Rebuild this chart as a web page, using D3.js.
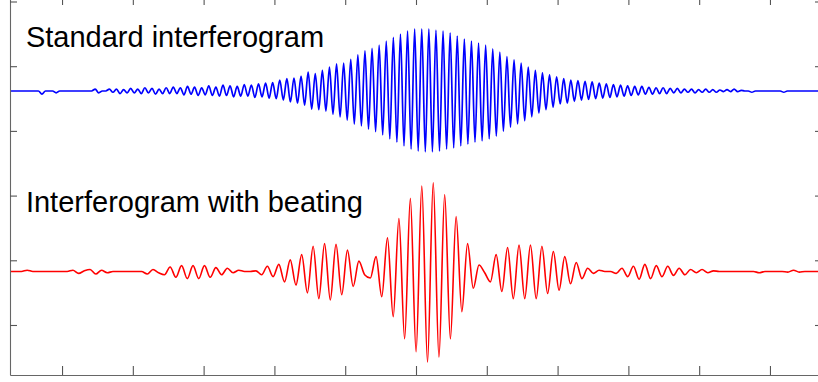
<!DOCTYPE html>
<html><head><meta charset="utf-8">
<script src="https://cdn.jsdelivr.net/npm/d3@7"></script>
<style>html,body{margin:0;padding:0;background:#fff;overflow:hidden;} svg{display:block;}</style>
</head><body>
<svg id="chart" width="818" height="382"></svg>
<script>
// ---- data ----
const xTicks = [-5,-4,-3,-2,-1,0,1,2,3,4,5];
const yTicks = [0,1,2,3,4,5];
const seriesNames = ["Standard interferogram", "Interferogram with beating"];
const blueOffset = 3.617;
const redOffset = 0.827;
const gridStart = -5.735;   // first sample position (axis units)
const blueStep = 0.05014;   // sample spacing, standard interferogram
const redStep = 0.08079;    // sample spacing, beating interferogram

// extremes of the standard interferogram (one value per half period)
const blueY = [
 0,0,0,0,0,0,0,0,0,-0.05,
 0,0,0,-0.03,0,0,0,0,0,0,
 0,0,0,0,0.03,-0.03,0,0,0.03,-0.02,
 0.03,-0.04,0.02,-0.03,0.04,-0.03,0.03,-0.04,0.05,-0.03,
 0.04,-0.05,0.03,-0.04,0.05,-0.04,0.06,-0.04,0.05,-0.06,
 0.07,-0.05,0.06,-0.07,0.05,-0.06,0.08,-0.07,0.06,-0.08,
 0.09,-0.07,0.08,-0.09,0.07,-0.08,0.1,-0.08,0.09,-0.1,
 0.11,-0.09,0.12,-0.11,0.13,-0.12,0.17,-0.14,0.19,-0.17,
 0.2,-0.19,0.23,-0.22,0.29,-0.28,0.27,-0.29,0.32,-0.31,
 0.37,-0.36,0.42,-0.4,0.43,-0.45,0.49,-0.51,0.56,-0.54,
 0.62,-0.59,0.66,-0.63,0.71,-0.68,0.77,-0.74,0.83,-0.79,
 0.88,-0.85,0.93,-0.9,0.96,-0.93,0.96,-0.94,0.96,-0.94,
 0.94,-0.93,0.93,-0.9,0.9,-0.88,0.85,-0.85,0.8,-0.82,
 0.77,-0.79,0.74,-0.77,0.71,-0.74,0.65,-0.7,0.6,-0.62,
 0.53,-0.56,0.48,-0.51,0.43,-0.46,0.37,-0.4,0.32,-0.34,
 0.28,-0.29,0.25,-0.25,0.22,-0.2,0.19,-0.19,0.17,-0.16,
 0.16,-0.14,0.15,-0.13,0.14,-0.12,0.12,-0.11,0.11,-0.1,
 0.1,-0.09,0.09,-0.08,0.08,-0.07,0.07,-0.06,0.07,-0.05,
 0.055,-0.05,0.05,-0.04,0.05,-0.04,0.04,-0.03,0.04,-0.03,
 0.03,-0.02,0.03,-0.03,0.02,-0.02,0.03,-0.02,0.02,-0.02,
 0.015,-0.01,0.02,-0.01,0.03,-0.01,0.01,0,0,-0.02,
 0,0,0,0,0,0,0,0,-0.02,0,
 0,0,0,0,0,0,0,0,0,0
];

// extremes of the interferogram with beating (one value per half period)
const redY = [
 0,0,0,0.02,0,0,0,0,0,0,
 0,0.02,-0.03,0.01,0.03,-0.04,0.02,-0.02,0,0,
 0,0,0,0,-0.04,0.03,-0.02,-0.05,0.07,-0.09,
 0.09,-0.11,0.09,-0.11,0.09,-0.09,0.06,-0.05,0.05,-0.02,
 0.02,0,0,0.01,-0.05,
 0.08,-0.08,0.11,-0.16,0.18,-0.21,0.26,-0.33,0.39,-0.42,
 0.43,-0.44,0.42,-0.36,0.33,-0.23,0.16,-0.05,-0.1,0.23,
 -0.39,0.52,-0.7,0.82,-1.04,1.13,-1.24,1.32,-1.4,1.37,
 -1.32,1.19,-1.04,0.85,-0.62,0.43,-0.26,0.1,-0.02,-0.16,
 0.26,-0.31,0.37,-0.42,0.41,-0.42,0.41,-0.42,0.39,-0.34,
 0.31,-0.29,0.23,-0.19,0.14,-0.11,0.05,-0.03,0.02,0,
 0,-0.03,0.05,-0.08,0.08,-0.12,0.11,-0.11,0.09,-0.08,
 0.08,-0.06,0.05,-0.05,0.03,-0.02,0.03,-0.02,0.01,
 0,0,0,0,0,0,0,-0.02,0,0,0,0,-0.01,0.02,-0.01,0,0,0,0
];

// ---- layout ----
const mLeft = 10, mRight = 822, mTop = -4, mBottom = 375;
const x = d3.scaleLinear().domain([-5.735, 5.735]).range([mLeft, mRight]);
const y = d3.scaleLinear().domain([-0.773, 5.085]).range([mBottom, mTop]);

const svg = d3.select("#chart");
svg.append("rect").attr("width", 818).attr("height", 382).attr("fill", "#fff");

svg.append("defs").append("clipPath").attr("id", "clip")
  .append("rect").attr("x", mLeft).attr("y", mTop)
  .attr("width", mRight - mLeft).attr("height", mBottom - mTop);

const plot = svg.append("g").attr("clip-path", "url(#clip)");

const blueData = blueY.map((v, i) => ({ x: gridStart + i * blueStep, y: v + blueOffset }));
const redData = redY.map((v, i) => ({ x: gridStart + i * redStep, y: v + redOffset }));

const line = d3.line().x(d => x(d.x)).y(d => y(d.y)).curve(d3.curveMonotoneX);

plot.append("path").datum(blueData).attr("d", line)
  .attr("fill", "none").attr("stroke", "#0000ff").attr("stroke-width", 1.7)
  .attr("stroke-linejoin", "round");
plot.append("path").datum(redData).attr("d", line)
  .attr("fill", "none").attr("stroke", "#ff0000").attr("stroke-width", 1.6)
  .attr("stroke-linejoin", "round");

// axes (box with inward ticks)
function styleAxis(g) {
  g.selectAll(".domain").attr("stroke", "#666").attr("stroke-width", 1.1);
  g.selectAll(".tick line").attr("stroke", "#555").attr("stroke-width", 1.1);
  g.selectAll("text").remove();
}
svg.append("g").attr("transform", `translate(0,${mBottom})`)
  .call(d3.axisBottom(x).tickValues(xTicks).tickSize(-9).tickSizeOuter(0).tickFormat(""))
  .call(styleAxis);
svg.append("g").attr("transform", `translate(0,${mTop})`)
  .call(d3.axisTop(x).tickValues(xTicks).tickSize(-9).tickSizeOuter(0).tickFormat(""))
  .call(styleAxis);
svg.append("g").attr("transform", `translate(${mLeft},0)`)
  .call(d3.axisLeft(y).tickValues(yTicks).tickSize(-7).tickSizeOuter(0).tickFormat(""))
  .call(styleAxis);
svg.append("g").attr("transform", `translate(${mRight},0)`)
  .call(d3.axisRight(y).tickValues(yTicks).tickSize(-7).tickSizeOuter(0).tickFormat(""))
  .call(styleAxis);

// labels
svg.append("text").attr("x", x(-5.51)).attr("y", y(4.297))
  .attr("font-family", "Liberation Sans, Arial, sans-serif").attr("font-size", 29)
  .attr("fill", "#000").text(seriesNames[0]);
svg.append("text").attr("x", x(-5.51)).attr("y", y(1.747))
  .attr("font-family", "Liberation Sans, Arial, sans-serif").attr("font-size", 29)
  .attr("fill", "#000").text(seriesNames[1]);
</script>
</body></html>
